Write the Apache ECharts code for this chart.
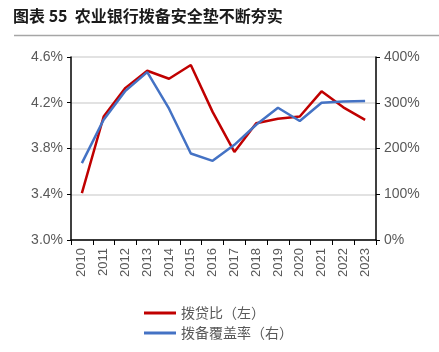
<!DOCTYPE html>
<html>
<head>
<meta charset="utf-8">
<script src="https://cdn.jsdelivr.net/npm/echarts@6/dist/echarts.min.js"></script>
<style>
  html, body { margin: 0; padding: 0; background: #fff; }
  #chart { width: 439px; height: 352px; }
</style>
</head>
<body>
<div id="chart"></div>
<script>
// 年份
const years = ['2010', '2011', '2012', '2013', '2014', '2015', '2016',
    '2017', '2018', '2019', '2020', '2021', '2022', '2023'];
// 拨贷比（%，左轴）
const loanProvisionRatio = [3.41, 4.08, 4.33, 4.48, 4.41, 4.53, 4.12,
    3.77, 4.02, 4.06, 4.08, 4.30, 4.16, 4.05];
// 拨备覆盖率（%，右轴）
const coverageRatio = [168, 263, 326, 367, 287, 189, 173,
    208, 252, 289, 260, 300, 303, 304];

const chart = echarts.init(document.getElementById('chart'));
const labelColor = '#595959';

chart.setOption({
    animation: false,
    title: {
        text: '图表 55  农业银行拨备安全垫不断夯实',
        left: 8, top: 3,
        textStyle: { fontFamily: 'Noto Sans CJK SC', fontSize: 16, fontWeight: 'bold', color: '#1a1a1a' }
    },
    graphic: [{
        type: 'line',
        shape: { x1: 14, y1: 35.5, x2: 439, y2: 35.5 },
        style: { stroke: '#a6a6a6', lineWidth: 1.5 }
    }],
    grid: { left: 71, right: 63, top: 57, bottom: 112 },
    legend: {
        orient: 'vertical',
        left: 139, top: 301,
        itemWidth: 32, itemHeight: 3, itemGap: 6,
        icon: 'rect',
        textStyle: { fontFamily: 'Noto Sans CJK SC', fontSize: 14, color: labelColor }
    },
    xAxis: {
        type: 'category',
        data: years,
        boundaryGap: true,
        axisLine: { lineStyle: { color: '#000', width: 1.5 } },
        axisTick: { show: true, alignWithLabel: false, length: 5, lineStyle: { color: '#000' } },
        axisLabel: { rotate: 90, color: labelColor, fontFamily: 'Liberation Sans', fontSize: 13, margin: 8 }
    },
    yAxis: [{
        type: 'value',
        min: 3.0, max: 4.6, interval: 0.4,
        axisLine: { show: true, lineStyle: { color: '#000', width: 1.5 } },
        axisTick: { show: true, length: 4, lineStyle: { color: '#000' } },
        splitLine: { lineStyle: { color: '#d9d9d9', width: 1.5 } },
        axisLabel: { color: labelColor, fontFamily: 'Liberation Sans', fontSize: 14, margin: 8,
            formatter: v => v.toFixed(1) + '%' }
    }, {
        type: 'value',
        min: 0, max: 400, interval: 100,
        axisLine: { show: true, lineStyle: { color: '#000', width: 1.5 } },
        axisTick: { show: true, length: 4, lineStyle: { color: '#000' } },
        splitLine: { show: false },
        axisLabel: { color: labelColor, fontFamily: 'Liberation Sans', fontSize: 14, margin: 8,
            formatter: v => v + '%' }
    }],
    series: [{
        name: '拨贷比（左）',
        type: 'line',
        data: loanProvisionRatio,
        yAxisIndex: 0,
        symbol: 'none',
        color: '#c00000',
        lineStyle: { width: 2.5 }
    }, {
        name: '拨备覆盖率（右）',
        type: 'line',
        data: coverageRatio,
        yAxisIndex: 1,
        symbol: 'none',
        color: '#4472c4',
        lineStyle: { width: 2.5 }
    }]
});
</script>
</body>
</html>
